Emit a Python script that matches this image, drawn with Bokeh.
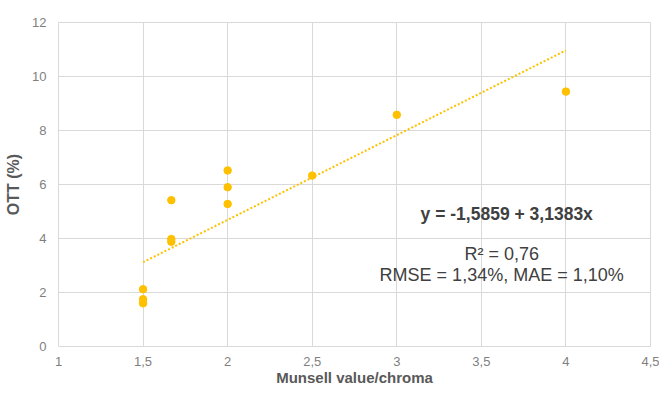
from bokeh.plotting import figure
from bokeh.models import ColumnDataSource, Label, FixedTicker, CustomJSTickFormatter, Range1d
from bokeh.embed import file_html
from bokeh.resources import INLINE

# Data
munsell_x = [1.5, 1.5, 1.5, 1.667, 1.667, 1.667, 2.0, 2.0, 2.0, 2.5, 3.0, 4.0]
ott_y = [2.12, 1.75, 1.60, 5.42, 3.98, 3.88, 6.52, 5.90, 5.28, 6.33, 8.58, 9.44]

intercept = -1.5859
slope = 3.1383
trend_x = [1.5, 4.0]
trend_y = [intercept + slope * v for v in trend_x]

x_ticks = [1, 1.5, 2, 2.5, 3, 3.5, 4, 4.5]
y_ticks = [0, 2, 4, 6, 8, 10, 12]

x_title = "Munsell value/chroma"
y_title = "OTT (%)"
eq_text = "y = -1,5859 + 3,1383x"
r2_text = "R\u00b2 = 0,76"
err_text = "RMSE = 1,34%, MAE = 1,10%"

FONT = "Liberation Sans"
GOLD = "#FFC000"
GRID = "#d9d9d9"

p = figure(width=659, height=388, output_backend="svg", toolbar_location=None,
           x_range=Range1d(1, 4.5), y_range=Range1d(0, 12),
           min_border_left=58, min_border_right=9, min_border_top=22, min_border_bottom=36)
p.outline_line_color = GRID
p.background_fill_color = "white"
p.border_fill_color = "white"

for ax in (p.xaxis[0], p.yaxis[0]):
    ax.axis_line_color = None
    ax.major_tick_line_color = None
    ax.minor_tick_line_color = None
    ax.major_label_text_font = FONT
    ax.major_label_text_font_size = "13px"
    ax.major_label_text_color = "#7f7f7f"
    ax.axis_label_text_font = FONT
    ax.axis_label_text_font_style = "bold"
    ax.axis_label_text_color = "#595959"
    ax.formatter = CustomJSTickFormatter(code="return tick.toString().replace('.', ',');")

p.xaxis.ticker = FixedTicker(ticks=x_ticks)
p.yaxis.ticker = FixedTicker(ticks=y_ticks)
p.xaxis.axis_label = x_title
p.yaxis.axis_label = y_title
p.xaxis.axis_label_text_font_size = "15px"
p.yaxis.axis_label_text_font_size = "16px"
p.xaxis.major_label_standoff = 4
p.xaxis.axis_label_standoff = 0
p.yaxis.major_label_standoff = 6
p.yaxis.axis_label_standoff = 7

p.xgrid.grid_line_color = GRID
p.ygrid.grid_line_color = GRID

p.line(trend_x, trend_y, line_color=GOLD, line_width=2, line_dash="2 2")
src = ColumnDataSource(dict(x=munsell_x, y=ott_y))
p.scatter("x", "y", source=src, size=7.5, fill_color=GOLD, line_color=GOLD)

p.add_layout(Label(x=3.65, y=4.91, text=eq_text, text_font=FONT, text_font_size="17.5px",
                   text_font_style="bold", text_color="#404040",
                   text_align="center", text_baseline="middle"))
p.add_layout(Label(x=3.62, y=3.42, text=r2_text, text_font=FONT, text_font_size="18px",
                   text_color="#404040", text_align="center", text_baseline="middle"))
p.add_layout(Label(x=3.62, y=2.65, text=err_text, text_font=FONT, text_font_size="18px",
                   text_color="#404040", text_align="center", text_baseline="middle"))

open("out.html", "w").write(file_html(p, INLINE))
